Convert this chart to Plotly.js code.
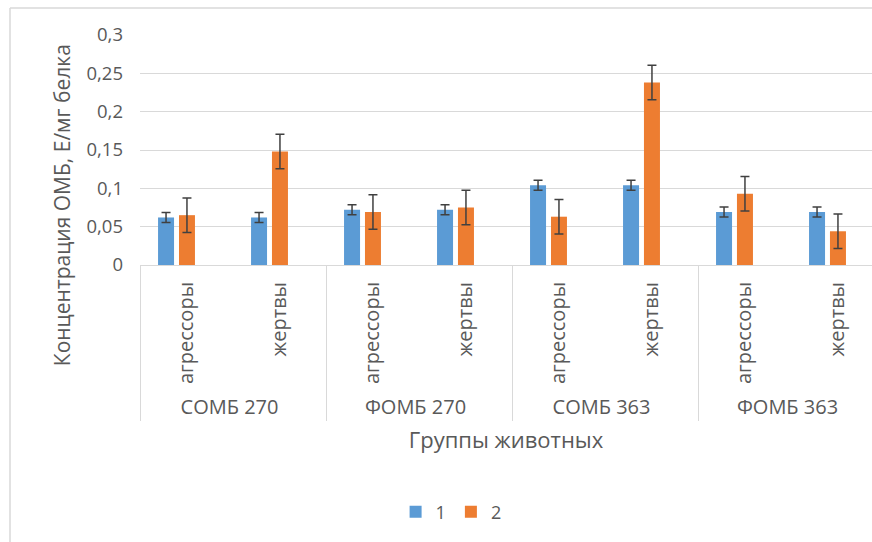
<!DOCTYPE html>
<html>
<head>
<meta charset="utf-8">
<script src="https://cdn.plot.ly/plotly-3.0.1.min.js"></script>
<style>
html, body { margin: 0; padding: 0; overflow: hidden; background: #ffffff; }
#chart { width: 872px; height: 542px; }
</style>
</head>
<body>
<div id="chart"></div>
<script>
// ---- data ----
var groups = ['СОМБ 270', 'ФОМБ 270', 'СОМБ 363', 'ФОМБ 363'];
var subgroups = ['агрессоры', 'жертвы'];
var series1Name = '1';
var series2Name = '2';
var series1 = [0.062, 0.062, 0.072, 0.072, 0.104, 0.104, 0.069, 0.069];
var series2 = [0.065, 0.148, 0.069, 0.075, 0.063, 0.238, 0.093, 0.044];
var series1Err = [0.0065, 0.0065, 0.0065, 0.0065, 0.0065, 0.0065, 0.0065, 0.0065];
var series2Err = [0.0225, 0.0225, 0.0225, 0.0225, 0.0225, 0.0225, 0.0225, 0.0225];
var yTitle = 'Концентрация ОМБ, Е/мг белка';
var xTitle = 'Группы животных';

// ---- build two-level categories ----
var outer = [], inner = [];
groups.forEach(function (g) {
  subgroups.forEach(function (s) { outer.push(g); inner.push(s); });
});

var txt = '#595959';
var grid = '#D9D9D9';
var fontFam = '"Open Sans", "Noto Sans", sans-serif';

var errStyle = { type: 'data', visible: true, color: '#404040', thickness: 1.5, width: 4.5 };

var trace1 = {
  type: 'bar', name: series1Name,
  x: [outer, inner], y: series1,
  marker: { color: '#5B9BD5' },
  width: 0.172, offset: -0.306,
  error_y: Object.assign({ array: series1Err }, errStyle)
};
var trace2 = {
  type: 'bar', name: series2Name,
  x: [outer, inner], y: series2,
  marker: { color: '#ED7D31' },
  width: 0.172, offset: -0.081,
  error_y: Object.assign({ array: series2Err }, errStyle)
};

var layout = {
  width: 872, height: 542,
  margin: { l: 140, r: 0, t: 35, b: 277 },
  paper_bgcolor: '#ffffff', plot_bgcolor: '#ffffff',
  separators: ', ',
  font: { family: fontFam, color: txt, size: 18 },
  barmode: 'overlay',
  showlegend: true,
  legend: {
    orientation: 'h', x: 0.425, xanchor: 'center', y: -1.074, yanchor: 'middle',
    font: { size: 18, color: txt }, itemwidth: 30, traceorder: 'normal'
  },
  xaxis: {
    type: 'multicategory',
    range: [-0.5, 7.371],
    showline: true, linecolor: grid, linewidth: 1,
    showgrid: false, ticks: '',
    tickangle: -90,
    ticklabelstandoff: 8,
    showdividers: true, dividercolor: grid, dividerwidth: 1,
    tickfont: { size: 20, color: txt },
    title: { text: xTitle, font: { size: 22, color: txt }, standoff: 13 }
  },
  yaxis: {
    range: [0, 0.3], dtick: 0.05, tick0: 0,
    showgrid: true, gridcolor: grid, gridwidth: 1,
    zeroline: false, showline: false, ticks: '',
    ticklabelstandoff: 16,
    tickfont: { size: 18.5, color: txt }
  },
  annotations: [{
    text: yTitle, xref: 'paper', yref: 'paper',
    x: -0.1066, y: 0.26, xanchor: 'center', yanchor: 'middle',
    textangle: -90, showarrow: false,
    font: { size: 21, color: txt, family: fontFam }
  }],
  shapes: [
    { type: 'line', xref: 'paper', yref: 'paper', x0: -0.1776, x1: -0.1776, y0: 1.1174, y1: -1.3,
      line: { color: grid, width: 1.5 }, layer: 'below' },
    { type: 'line', xref: 'paper', yref: 'paper', x0: -0.1776, x1: 1.1, y0: 1.1174, y1: 1.1174,
      line: { color: grid, width: 1.5 }, layer: 'below' }
  ]
};

Plotly.newPlot('chart', [trace1, trace2], layout, { displayModeBar: false, staticPlot: true });
</script>
</body>
</html>
